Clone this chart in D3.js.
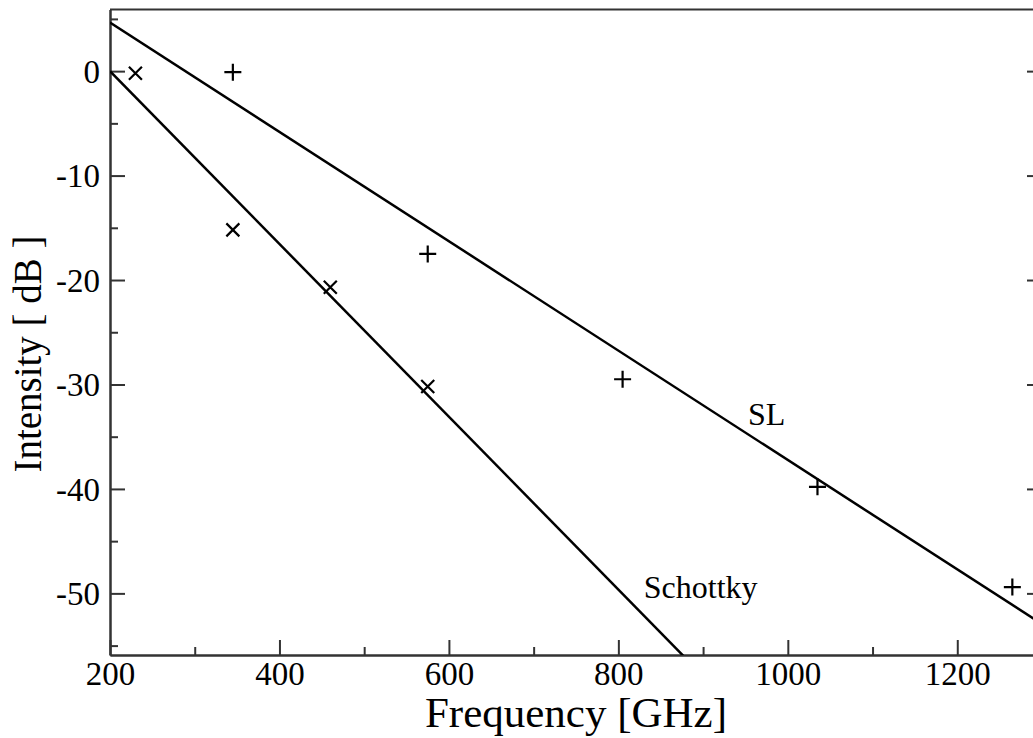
<!DOCTYPE html>
<html>
<head>
<meta charset="utf-8">
<script src="https://cdn.jsdelivr.net/npm/d3@7"></script>
<style>
  html, body { margin: 0; padding: 0; background: #fff; overflow: hidden; }
  svg { display: block; }
  text { font-family: "Liberation Serif", "Times New Roman", Times, serif; fill: #000; }
</style>
</head>
<body>
<svg id="chart" width="1033" height="738"></svg>
<script>
// Harmonic output measurements (frequency in GHz, intensity in dB)
const schottkyFreq = [230, 345, 460, 575];
const schottkyDb   = [-0.2, -15.2, -20.7, -30.2];
const slFreq       = [345, 575, 805, 1035, 1265];
const slDb         = [-0.1, -17.5, -29.5, -39.8, -49.4];

// Straight-line fits, given as end points
const fitFreq       = [200, 1300];
const schottkyFitDb = [0, -91.0];
const slFitDb       = [4.66, -52.94];

// Axis ticks
const xMajorTicks = [200, 400, 600, 800, 1000, 1200];
const xMinorTicks = [300, 500, 700, 900, 1100, 1300];
const yMajorTicks = [0, -10, -20, -30, -40, -50];
const yMinorTicks = [5, -5, -15, -25, -35, -45, -55];

// Curve labels
const curveLabels = [
  { text: "SL", freq: 953, db: -33.9 },
  { text: "Schottky", freq: 830, db: -50.4 }
];

const svg = d3.select("#chart");
const plotLeft = 110, plotRight = 1042, plotTop = 9.5, plotBottom = 655;

const x = d3.scaleLinear().domain([200, 1300]).range([plotLeft, plotRight]);
const y = d3.scaleLinear().domain([-55.9, 5.9]).range([plotBottom, plotTop]);

const axisColor = "#333";
const tickFont = 33;
const labelFont = 32;
// plain hyphen-minus for negative tick values
const fmt = d => String(d);

svg.append("defs").append("clipPath").attr("id", "plot-clip")
  .append("rect").attr("x", plotLeft).attr("y", plotTop)
  .attr("width", plotRight - plotLeft).attr("height", plotBottom - plotTop);

function styleAxis(g) {
  g.select(".domain").attr("stroke", axisColor).attr("stroke-width", 2);
  g.selectAll(".tick line").attr("stroke", axisColor).attr("stroke-width", 2);
  g.selectAll(".tick text")
    .attr("font-size", tickFont)
    .attr("font-family", "Liberation Serif, Times New Roman, serif")
    .attr("fill", "#000");
}

// Bottom axis: major ticks with labels, minor ticks without
svg.append("g").attr("transform", `translate(0,${plotBottom})`)
  .call(d3.axisBottom(x).tickValues(xMinorTicks).tickSize(-8).tickSizeOuter(0).tickFormat(""))
  .call(styleAxis);
svg.append("g").attr("transform", `translate(0,${plotBottom})`)
  .call(d3.axisBottom(x).tickValues(xMajorTicks).tickSize(-15).tickSizeOuter(0).tickPadding(7).tickFormat(fmt))
  .call(styleAxis);

// Left axis
svg.append("g").attr("transform", `translate(${plotLeft},0)`)
  .call(d3.axisLeft(y).tickValues(yMinorTicks).tickSize(-8).tickSizeOuter(0).tickFormat(""))
  .call(styleAxis);
svg.append("g").attr("transform", `translate(${plotLeft},0)`)
  .call(d3.axisLeft(y).tickValues(yMajorTicks).tickSize(-15).tickSizeOuter(0).tickPadding(10).tickFormat(fmt))
  .call(styleAxis)
  .selectAll(".tick text").attr("dy", "0.34em");

// Right axis: mirrored ticks, no labels
svg.append("g").attr("transform", `translate(${plotRight},0)`)
  .call(d3.axisRight(y).tickValues(yMinorTicks).tickSize(-8).tickSizeOuter(0).tickFormat(""))
  .call(styleAxis);
svg.append("g").attr("transform", `translate(${plotRight},0)`)
  .call(d3.axisRight(y).tickValues(yMajorTicks).tickSize(-15).tickSizeOuter(0).tickFormat(""))
  .call(styleAxis);

// Top frame line
svg.append("line")
  .attr("x1", plotLeft).attr("x2", plotRight).attr("y1", plotTop).attr("y2", plotTop)
  .attr("stroke", axisColor).attr("stroke-width", 2);

// Fit lines
const line = d3.line().x(d => x(d[0])).y(d => y(d[1]));
const plot = svg.append("g").attr("clip-path", "url(#plot-clip)");
[schottkyFitDb, slFitDb].forEach(dbs => {
  plot.append("path")
    .datum(fitFreq.map((f, i) => [f, dbs[i]]))
    .attr("d", line)
    .attr("fill", "none").attr("stroke", "#000").attr("stroke-width", 2.5);
});

// Schottky markers (x-cross)
const cx = 6.5;
plot.append("g").selectAll("path")
  .data(schottkyFreq.map((f, i) => [f, schottkyDb[i]]))
  .join("path")
  .attr("transform", d => `translate(${x(d[0])},${y(d[1])})`)
  .attr("d", `M${-cx},${-cx}L${cx},${cx}M${-cx},${cx}L${cx},${-cx}`)
  .attr("stroke", "#000").attr("stroke-width", 2.2).attr("fill", "none");

// SL markers (plus)
const px = 8.5;
plot.append("g").selectAll("path")
  .data(slFreq.map((f, i) => [f, slDb[i]]))
  .join("path")
  .attr("transform", d => `translate(${x(d[0])},${y(d[1])})`)
  .attr("d", `M${-px},0L${px},0M0,${-px}L0,${px}`)
  .attr("stroke", "#000").attr("stroke-width", 2.2).attr("fill", "none");

// Curve labels
svg.append("g").selectAll("text")
  .data(curveLabels)
  .join("text")
  .attr("x", d => x(d.freq))
  .attr("y", d => y(d.db))
  .attr("font-size", labelFont)
  .text(d => d.text);

// Axis titles
svg.append("text")
  .attr("x", (plotLeft + plotRight) / 2).attr("y", 727)
  .attr("text-anchor", "middle")
  .attr("font-size", 43)
  .text("Frequency [GHz]");

svg.append("text")
  .attr("transform", "translate(41,354) rotate(-90)")
  .attr("text-anchor", "middle")
  .attr("font-size", 39)
  .text("Intensity [ dB ]");
</script>
</body>
</html>
